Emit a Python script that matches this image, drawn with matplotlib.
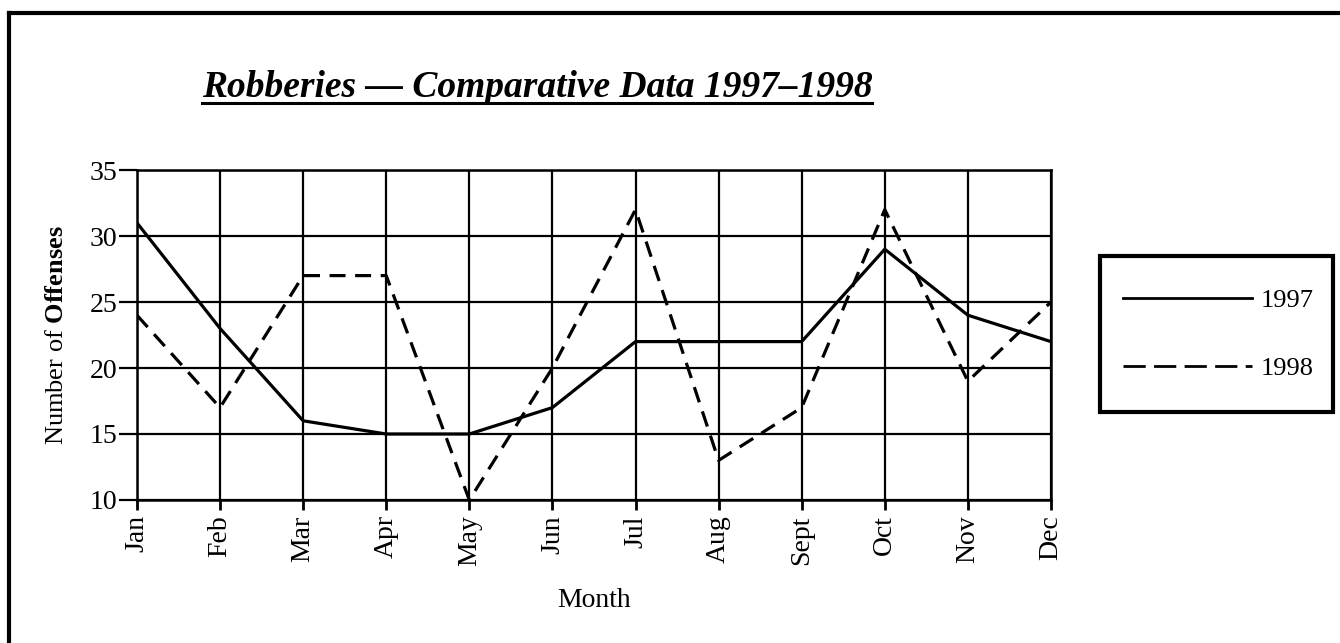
import matplotlib.pyplot as plt
from matplotlib.lines import Line2D
from matplotlib.patches import Rectangle

months = ["Jan", "Feb", "Mar", "Apr", "May", "Jun", "Jul", "Aug", "Sept", "Oct", "Nov", "Dec"]
y1997 = [31, 23, 16, 15, 15, 17, 22, 22, 22, 29, 24, 22]
y1998 = [24, 17, 27, 27, 10, 20, 32, 13, 17, 32, 19, 25]
yticks = [10, 15, 20, 25, 30, 35]

plt.rcParams['font.family'] = 'Liberation Serif'
plt.rcParams['mathtext.fontset'] = 'custom'
plt.rcParams['mathtext.rm'] = 'Liberation Serif'
plt.rcParams['mathtext.bf'] = 'Liberation Serif:bold'

W, H = 1340, 643
fig = plt.figure(figsize=(13.4, 6.43), dpi=100)
ax = fig.add_axes([0.1022, 0.2224, 0.6821, 0.5132])

x = list(range(len(months)))
ax.plot(x, y1997, color='black', lw=2.3, label='1997', zorder=3)
ax.plot(x, y1998, color='black', lw=2.3, dashes=(5, 3), label='1998', zorder=3)

ax.set_xlim(0, len(months) - 1)
ax.set_ylim(10, 35)
ax.set_xticks(x)
ax.set_xticklabels(months, rotation=90, fontsize=20)
ax.set_yticks(yticks)
ax.set_yticklabels([str(v) for v in yticks], fontsize=20)
ax.tick_params(axis='x', length=7, width=2, pad=4)
ax.tick_params(axis='y', length=13, width=1.6, pad=1)
ax.grid(True, color='black', lw=1.6)
for s in ax.spines.values():
    s.set_linewidth(1.8)

ax.set_xlabel("Month", fontsize=20, labelpad=16)
ax.set_ylabel(r"Number of $\mathbf{Offenses}$", fontsize=19, labelpad=16)

# legend entries, box drawn separately
leg = fig.legend(loc='upper left', bbox_to_anchor=(1123 / W, 1 - 289 / H), fontsize=19,
                 handlelength=4.9, handletextpad=0.3, labelspacing=1.68,
                 borderpad=0, borderaxespad=0, frameon=False)
for h in leg.get_lines():
    h.set_linewidth(2)
leg.get_lines()[1].set_dashes((8, 3))
fig.add_artist(Rectangle((1100 / W, 1 - 412 / H), 233 / W, 156 / H, fill=False,
                         edgecolor='black', lw=3, transform=fig.transFigure))

base = 1 - 97 / H
title = fig.text(537 / W, base, "Robberies \u2014 Comparative Data 1997\u20131998",
                 fontsize=27, fontweight='bold', style='italic', ha='center', va='baseline')

# underline under title
fig.canvas.draw()
bb = title.get_window_extent().transformed(fig.transFigure.inverted())
fig.add_artist(Line2D([bb.x0, bb.x1], [base - 6 / H, base - 6 / H], color='black', lw=2.2,
                      transform=fig.transFigure))

# page border (top and left visible)
fig.add_artist(Line2D([9 / W, 1.0], [1 - 13 / H, 1 - 13 / H], color='black', lw=3,
                      transform=fig.transFigure))
fig.add_artist(Line2D([9 / W, 9 / W], [0.0, 1 - 13 / H], color='black', lw=3,
                      transform=fig.transFigure))

fig.savefig("out.png", dpi=100)
